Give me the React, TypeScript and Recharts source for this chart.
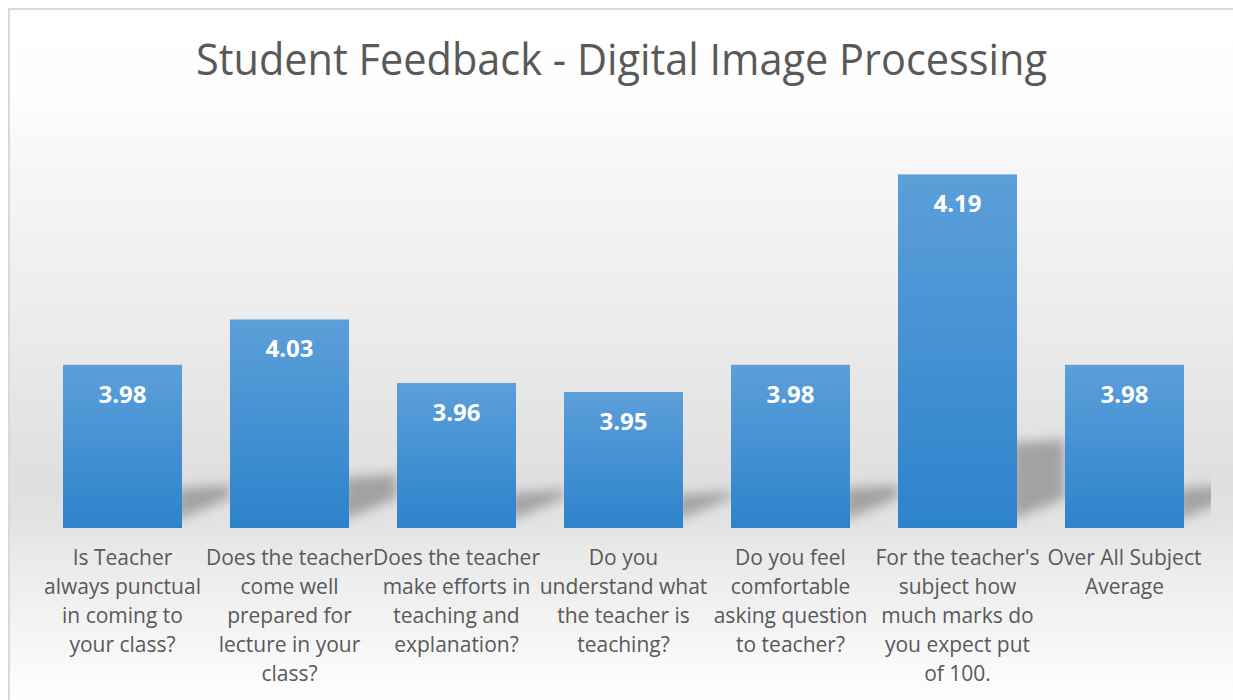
import React from 'react';
import { BarChart, Bar, XAxis, YAxis, LabelList } from 'recharts';

const CATEGORIES = [
  'Is Teacher always punctual in coming to your class?',
  'Does the teacher come well prepared for lecture in your class?',
  'Does the teacher make efforts in teaching and explanation?',
  'Do you understand what the teacher is teaching?',
  'Do you feel comfortable asking question to teacher?',
  "For the teacher's subject how much marks do you expect put of 100.",
  'Over All Subject Average',
];

const SCORES = [3.98, 4.03, 3.96, 3.95, 3.98, 4.19, 3.98];

// wrapped tick labels, same breaks as the original
const TICK_LINES = [
  ['Is Teacher', 'always punctual', 'in coming to', 'your class?'],
  ['Does the teacher', 'come well', 'prepared for', 'lecture in your', 'class?'],
  ['Does the teacher', 'make efforts in', 'teaching and', 'explanation?'],
  ['Do you', 'understand what', 'the teacher is', 'teaching?'],
  ['Do you feel', 'comfortable', 'asking question', 'to teacher?'],
  ["For the teacher's", 'subject how', 'much marks do', 'you expect put', 'of 100.'],
  ['Over All Subject', 'Average'],
];

const Y_DOMAIN = [3.8, 4.25];

const data = CATEGORIES.map((name, i) => ({ name, score: SCORES[i] }));

const W = 1223;
const H = 690;
const MARGIN = { top: 110, right: 25, bottom: 0, left: 29 };
const FONT = '"Open Sans", "Noto Sans", sans-serif';

const ShadowBar = (props: any) => {
  const { x, y, width, height } = props;
  const b = y + height;
  const hs = height * 0.24;
  const r = x + width;
  const pts = [
    [r - 6, b - 8],
    [r + 48, b - 30],
    [r + 48, b - hs - 4],
    [r - 6, b - hs],
  ]
    .map((p) => p.join(','))
    .join(' ');
  return (
    <g>
      <polygon points={pts} fill="#a2a2a2" filter="url(#shadowBlur)" clipPath="url(#plotClip)" />
      <rect x={x} y={y} width={width} height={height} fill="url(#barGrad)" />
    </g>
  );
};

const renderValue = (props: any) => {
  const { x, y, width, value } = props;
  return (
    <text
      x={x + width / 2}
      y={y + 38}
      textAnchor="middle"
      fill="#ffffff"
      fontFamily={FONT}
      fontWeight={700}
      fontSize={24}
    >
      {Number(value).toFixed(2)}
    </text>
  );
};

const renderTick = (props: any) => {
  const { x, y, payload } = props;
  const lines = TICK_LINES[payload.index] || [String(payload.value)];
  return (
    <g>
      <text textAnchor="middle" fill="#595959" fontFamily={FONT} fontSize={21}>
        {lines.map((l, k) => (
          <tspan key={k} x={x} y={y + 37 + k * 29}>
            {l}
          </tspan>
        ))}
      </text>
    </g>
  );
};

export default function App() {
  return (
    <div
      style={{
        position: 'absolute',
        left: 8,
        top: 8,
        width: 1225,
        height: 692,
        boxSizing: 'border-box',
        borderTop: '2px solid #d9d9d9',
        borderLeft: '2px solid #d9d9d9',
        background:
          'linear-gradient(to bottom, #ffffff 0px, #fdfdfd 90px, #f7f7f7 150px, #ebebeb 320px, #dfdfdf 470px, #e3e3e3 518px, #e9e9e9 540px, #fefefe 690px)',
        overflow: 'hidden',
      }}
    >
      <svg
        width={W}
        height={100}
        style={{ position: 'absolute', left: 0, top: 0, pointerEvents: 'none' }}
      >
        <text
          x={611.5}
          y={65}
          textAnchor="middle"
          fill="#595959"
          fontFamily={FONT}
          fontSize={44}
          textLength={851}
          lengthAdjust="spacingAndGlyphs"
        >
          Student Feedback - Digital Image Processing
        </text>
      </svg>
      <BarChart width={W} height={H} data={data} margin={MARGIN}>
        <defs>
          <linearGradient id="barGrad" x1="0" y1="0" x2="0" y2="1">
            <stop offset="0%" stopColor="#5c9fd9" />
            <stop offset="100%" stopColor="#2d83cc" />
          </linearGradient>
          <filter id="shadowBlur" x="-50%" y="-50%" width="200%" height="200%">
            <feGaussianBlur stdDeviation="6" />
          </filter>
          <clipPath id="plotClip">
            <rect x={0} y={0} width={W - MARGIN.right + 3} height={H} />
          </clipPath>
        </defs>
        <XAxis
          dataKey="name"
          axisLine={false}
          tickLine={false}
          tickSize={0}
          tickMargin={0}
          height={172}
          interval={0}
          tick={renderTick}
        />
        <YAxis hide domain={Y_DOMAIN} allowDataOverflow />
        <Bar dataKey="score" barSize={119} shape={ShadowBar} isAnimationActive={false}>
          <LabelList dataKey="score" content={renderValue} />
        </Bar>
      </BarChart>
    </div>
  );
}
